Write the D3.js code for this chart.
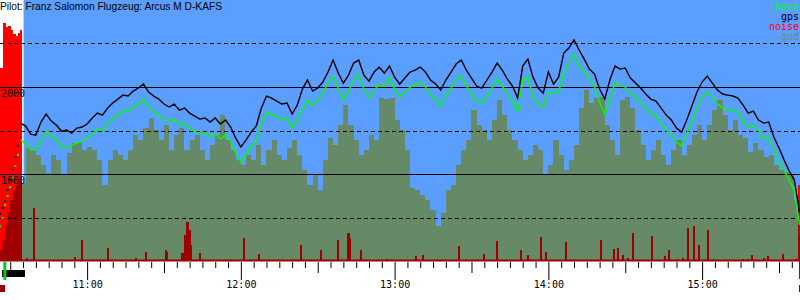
<!DOCTYPE html>
<html>
<head>
<meta charset="utf-8">
<script src="https://cdn.jsdelivr.net/npm/d3@7"></script>
<style>
  body { margin: 0; background: #fff; }
  svg { display: block; }
</style>
</head>
<body>
<div id="chart"></div>
<script>
// flight log samples, minutes after 10:26
const times = [0,1,2,3,4,5,6,7,8,
  10,12,14,16,18,20,22,24,26,28,30,32,34,36,38,40,42,44,46,48,50,52,54,56,58,60,
  62,64,66,68,70,72,74,76,78,80,82,84,86,88,90,92,94,96,98,100,102,104,106,108,110,
  112,114,116,118,120,122,124,126,128,130,132,134,136,138,140,142,144,146,148,150,
  152,154,156,158,160,162,164,166,168,170,172,174,176,178,180,182,184,186,188,190,
  192,194,196,198,200,202,204,206,208,210,212,214,216,218,220,222,224,226,228,230,
  232,234,236,238,240,242,244,246,248,250,252,254,256,258,260,262,264,266,268,270,
  272,274,276,278,280,282,284,286,288,290,292,294,296,298,300,302,304,306,308,310,312];

// altitude in m
const gps = [540,610,690,816,930,1045,1195,1321,1585,
  1551,1459,1447,1597,1689,1608,1562,1493,1505,1470,1528,1540,1574,1643,1700,1677,1758,1816,1861,1907,
  1896,1953,1988,2034,1942,1896,1861,1804,1770,1804,1735,1758,1700,1666,1631,1643,1597,1643,1574,1620,
  1540,1413,1310,1390,1482,1551,1758,1896,1873,1838,1804,1816,1689,1792,1976,2080,1953,1988,2057,2172,
  2310,2160,2045,2137,2275,2310,2137,2068,2172,2229,2160,2241,2114,2034,2103,2172,2195,2229,2172,2080,
  2034,1965,2080,2172,2264,2310,2195,2103,2011,1988,2080,2172,2275,2195,2091,2011,1873,2241,2321,2114,
  1988,1930,2172,2034,2114,2390,2448,2540,2425,2321,2206,2149,1976,1861,2080,2241,2206,2218,2103,2045,
  1988,1919,1861,1838,1758,1677,1620,1528,1482,1620,1781,1942,2057,2126,2045,1965,1919,1907,1896,1873,
  1792,1700,1723,1620,1585,1597,1425,1298,1160,1034,930,562];

const baro = [400,495,645,747,850,954,1092,1218,1390,
  1355,1275,1275,1390,1494,1436,1402,1310,1298,1333,1355,1378,1413,1459,1517,1494,1574,1631,1677,1723,
  1712,1781,1804,1861,1770,1723,1677,1631,1597,1631,1562,1585,1528,1494,1459,1470,1425,1470,1402,1448,
  1367,1241,1138,1218,1310,1378,1574,1712,1689,1655,1631,1643,1528,1620,1735,1850,1792,1850,1930,2045,
  2126,1988,1850,1953,2080,2149,1965,1873,1965,2034,2011,2103,1976,1884,1942,2000,2022,2057,2000,1907,
  1861,1781,1896,1988,2080,2126,2011,1930,1838,1816,1896,1988,2091,2011,1919,1838,1712,2080,2114,1884,
  1804,1758,1942,1930,1942,2160,2264,2379,2241,2183,2103,2000,1816,1689,1850,2045,2022,2000,1930,1884,
  1827,1758,1700,1666,1585,1505,1448,1367,1321,1459,1608,1770,1884,1942,1884,1804,1758,1735,1735,1712,
  1597,1540,1562,1505,1402,1425,1275,1138,1045,930,815,415];

const gnd = [127,242,414,564,700,815,873,896,896,
  1298,1275,1218,1102,1010,1218,1160,988,1241,1356,1356,1275,1310,1275,1160,873,1160,1275,1218,1160,
  1275,1448,1390,1528,1643,1505,1390,1562,1275,1448,1528,1275,1390,1448,1275,1160,1333,1448,1678,1390,
  1275,1160,1102,1218,1160,1333,1102,1275,1390,1218,1160,1298,1390,1218,1045,873,988,815,1160,1413,
  1333,1562,1793,1562,1390,1218,1275,1448,1390,1874,1862,1874,1620,1505,1275,839,815,758,700,586,
  402,552,815,873,1102,1275,1390,1735,1562,1505,1390,1620,1850,1678,1505,1390,1275,1160,1218,1333,
  1275,988,1102,1390,1218,1045,1160,1333,1760,1966,1816,1874,1886,1562,1390,1218,1850,1886,1760,1505,
  1333,1160,1275,1390,1218,1102,1275,1390,1218,1333,1448,1562,1390,1562,1735,1850,1678,1505,1620,1448,
  1413,1253,1356,1275,1196,1218,1102,1045,1022,988,700,298];

// engine noise level (0..1000)
const noiseTimes = [0,1,2,3,4,5,6,7,8,
  10.15,12.88,28.88,31.6,41.76,52.68,56.59,64.39,64.78,70.63,71.8,72.59,73.37,74.15,77.66,94.83,
  100.68,117.07,124.88,131.51,135.41,136.2,140.49,150.63,161.95,164.68,178.73,188.49,193.56,202.93,
  205.66,210.73,212.68,220.49,234.15,239.22,240.78,242.73,244.68,246.63,254.05,259.12,260.68,264.2,
  266.15,268.1,270.44,272.39,275.9,289.56,291.51,293.07,297.76,299.32,305.17,310.24,311.41];
const noiseLevels = [739,912,897,900,885,870,862,874,885,
  11,203,15,80,50,11,34,42,34,31,100,149,119,61,31,88,
  27,61,42,80,107,88,42,8,19,23,57,27,77,42,
  23,92,34,73,80,46,50,23,11,107,96,19,42,8,
  11,126,134,61,119,8,8,23,11,19,27,8,291];

const legendNames = ["baro", "gps", "noise", "gnd"];
const legendColors = ["#00ff00", "#000000", "#ff0000", "#6b8e6b"];
const gridSolid = [1000, 2000];
const gridDashed = [500, 1500, 2500];
const title = "Pilot: Franz Salomon Flugzeug: Arcus M D-KAFS";

const skyStart = 9.2;        // first minute in flight (blue background)
const engineRun = [0.8, 9.75];
const takeoffMin = 1.3;
const lastMin = 311.4;

const width = 800, height = 300;
const plotBottom = 261;

const base = new Date(2020, 0, 1, 10, 26, 0);
const t = m => new Date(base.getTime() + m * 60000);

const x = d3.scaleTime().domain([t(0), t(312.2)]).range([0, width]);
const y = d3.scaleLinear().domain([0, 3000]).range([plotBottom, 0]);
const yNoise = d3.scaleLinear().domain([0, 1000]).range([plotBottom, 0]);

const svg = d3.select("#chart").append("svg")
    .attr("width", width)
    .attr("height", height);

const mono = "'DejaVu Sans Mono', monospace";

svg.append("rect").attr("width", width).attr("height", height).attr("fill", "#fff");

// sky
svg.append("rect")
    .attr("x", x(t(skyStart))).attr("y", 0)
    .attr("width", width - x(t(skyStart))).attr("height", plotBottom)
    .attr("fill", "#5a9eff");

const rows = times.map((m, i) => ({ m: m, gps: gps[i], baro: baro[i], gnd: gnd[i] }));
const noise = noiseTimes.map((m, i) => ({ m: m, v: noiseLevels[i] }));

function barWidth(d, i) {
    const next = noise[i + 1];
    const gap = next ? x(t(next.m)) - x(t(d.m)) : 2;
    return gap < 3 ? gap + 0.6 : 2;
}

function drawNoise(g, color) {
    g.selectAll("rect")
        .data(noise)
        .join("rect")
        .attr("x", d => x(t(d.m)))
        .attr("y", d => yNoise(d.v))
        .attr("width", barWidth)
        .attr("height", d => plotBottom - yNoise(d.v))
        .attr("fill", color)
        .attr("shape-rendering", "crispEdges");
}

// noise over sky
drawNoise(svg.append("g"), "#ff0000");

// ground
const gndArea = d3.area()
    .x(d => x(t(d.m)))
    .y0(plotBottom)
    .y1(d => y(d.gnd))
    .curve(d3.curveStepAfter);

const gndRows = rows.concat([{ m: 312.2, gnd: gnd[gnd.length - 1] }]);

svg.append("path")
    .datum(gndRows)
    .attr("d", gndArea)
    .attr("fill", "#668a68")
    .attr("shape-rendering", "crispEdges");

svg.append("clipPath").attr("id", "gndclip")
    .append("path").datum(gndRows).attr("d", gndArea);

// noise over ground is darker
drawNoise(svg.append("g").attr("clip-path", "url(#gndclip)"), "#9e0000");

// baseline
svg.append("rect")
    .attr("x", 0).attr("y", plotBottom - 1.5)
    .attr("width", width).attr("height", 2)
    .attr("fill", "#9e0000");

// grid
svg.selectAll(".solid")
    .data(gridSolid)
    .join("line")
    .attr("x1", 0).attr("x2", width)
    .attr("y1", d => Math.round(y(d)) + 0.5).attr("y2", d => Math.round(y(d)) + 0.5)
    .attr("stroke", "#000").attr("stroke-width", 1);

svg.selectAll(".dashed")
    .data(gridDashed)
    .join("line")
    .attr("x1", 0).attr("x2", width)
    .attr("y1", d => Math.round(y(d)) + 0.5).attr("y2", d => Math.round(y(d)) + 0.5)
    .attr("stroke", "#000").attr("stroke-width", 1)
    .attr("stroke-dasharray", "4,3");

// altitude curves: dots during motor climb, line afterwards
const climb = rows.filter(d => d.m < 8);
const glide = rows.filter(d => d.m >= 8);

function curve(key, color) {
    svg.append("path")
        .datum(glide)
        .attr("d", d3.line().x(d => x(t(d.m))).y(d => y(d[key])))
        .attr("fill", "none")
        .attr("stroke", color)
        .attr("stroke-width", 1.4)
        .attr("stroke-linejoin", "miter");
    svg.append("g").selectAll("rect")
        .data(climb)
        .join("rect")
        .attr("x", d => x(t(d.m)) - 1)
        .attr("y", d => y(d[key]) - 1)
        .attr("width", 2).attr("height", 2)
        .attr("fill", color);
}
curve("baro", "#00ff00");
curve("gps", "#000000");

// y labels
svg.selectAll(".ylab")
    .data(gridSolid)
    .join("text")
    .attr("x", 1)
    .attr("y", d => y(d) + 10)
    .attr("font-family", mono)
    .attr("font-size", 10)
    .attr("fill", "#000")
    .text(d => d);

// time axis
const axis = svg.append("g")
    .attr("transform", `translate(0,${plotBottom + 1})`)
    .call(d3.axisBottom(x)
        .ticks(d3.timeMinute.every(5))
        .tickSizeOuter(0)
        .tickFormat(d => d.getMinutes() === 0 ? d3.timeFormat("%H:%M")(d) : ""));
axis.select(".domain").remove();
axis.selectAll(".tick line")
    .attr("stroke", "#000")
    .attr("y2", d => d.getMinutes() === 0 ? 18 : d.getMinutes() === 30 ? 11 : 6);
axis.selectAll(".tick text")
    .attr("y", 26)
    .attr("dy", null)
    .attr("font-family", mono)
    .attr("font-size", 10)
    .attr("fill", "#000");

// event markers under the axis
svg.append("rect")
    .attr("x", x(t(engineRun[0]))).attr("y", 270)
    .attr("width", x(t(engineRun[1])) - x(t(engineRun[0]))).attr("height", 7)
    .attr("fill", "#000");
svg.append("rect")
    .attr("x", x(t(takeoffMin))).attr("y", 262)
    .attr("width", 3).attr("height", 18)
    .attr("fill", "#00cc22");
svg.append("rect")
    .attr("x", x(t(0))).attr("y", 285)
    .attr("width", 5).attr("height", 7)
    .attr("fill", "#9e0000");
svg.append("rect")
    .attr("x", x(t(lastMin)) + 1).attr("y", 261)
    .attr("width", 2).attr("height", 18)
    .attr("fill", "#cc0000");
svg.append("rect")
    .attr("x", x(t(lastMin)) + 1).attr("y", 285)
    .attr("width", 2).attr("height", 7)
    .attr("fill", "#9e0000");

// legend
svg.selectAll(".legend")
    .data(legendNames)
    .join("text")
    .attr("x", 799)
    .attr("y", (d, i) => 10 + i * 10)
    .attr("text-anchor", "end")
    .attr("font-family", mono)
    .attr("font-size", 10)
    .attr("fill", (d, i) => legendColors[i])
    .text(d => d);

// title
svg.append("text")
    .attr("x", 0).attr("y", 10)
    .attr("font-family", "'Liberation Sans', Arial, sans-serif")
    .attr("font-size", 10.2)
    .attr("fill", "#000")
    .text(title);
</script>
</body>
</html>
